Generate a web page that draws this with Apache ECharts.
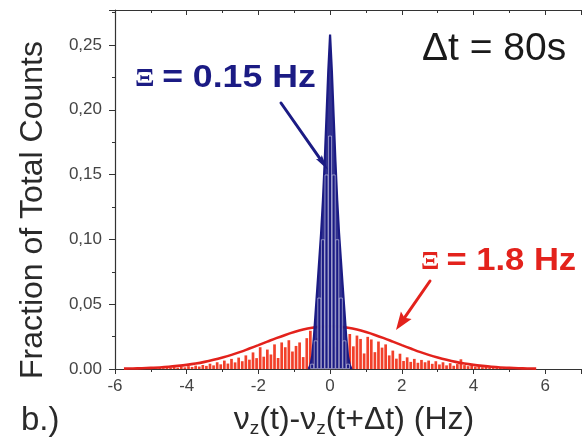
<!DOCTYPE html>
<html>
<head>
<meta charset="utf-8">
<script src="https://cdn.jsdelivr.net/npm/echarts@6/dist/echarts.min.js"></script>
<style>
  html, body { margin: 0; padding: 0; background: #fff; }
  #chart { width: 584px; height: 440px; }
</style>
</head>
<body>
<div id="chart"></div>
<script>
// Histogram of frequency differences nu_z(t) - nu_z(t + dt), dt = 80 s
const binWidth = 0.1;            // Hz
const redFirstBin = -5.65;       // centre of first bin, Hz

// Xi = 1.8 Hz run: fraction of counts per 0.1 Hz bin
const redCounts = [
  0.0004, 0.0006, 0.0003, 0.0007, 0.0005, 0.0008, 0.0004, 0.0009, 0.0006, 0.0011,
  0.0007, 0.0012, 0.0009, 0.0015, 0.0010, 0.0018, 0.0013,
  0.0022, 0.0016, 0.0026, 0.0019, 0.0031, 0.0024, 0.0041, 0.0028, 0.0052, 0.0036,
  0.0065, 0.0042, 0.0078, 0.0051, 0.0088, 0.0060, 0.0105, 0.0072, 0.0128, 0.0084,
  0.0168, 0.0095, 0.0150, 0.0112, 0.0190, 0.0085, 0.0205, 0.0168, 0.0222, 0.0135,
  0.0178, 0.0205, 0.0092, 0.0238, 0.0295, 0.0190, 0.0240, 0.0160, 0.0210, 0.0180,
  0.0225, 0.0170, 0.0215, 0.0150, 0.0195, 0.0270, 0.0175, 0.0258, 0.0232, 0.0120,
  0.0248, 0.0228, 0.0130, 0.0212, 0.0165, 0.0190, 0.0105, 0.0142, 0.0080, 0.0118,
  0.0062, 0.0090, 0.0055, 0.0078, 0.0048, 0.0070, 0.0052, 0.0065, 0.0040, 0.0060,
  0.0035, 0.0052, 0.0028, 0.0045, 0.0025, 0.0038, 0.0075, 0.0030, 0.0022, 0.0028,
  0.0018, 0.0022, 0.0014, 0.0019, 0.0011, 0.0016, 0.0009, 0.0013, 0.0008, 0.0011,
  0.0006, 0.0009, 0.0005, 0.0008, 0.0004, 0.0006, 0.0003
];

// Gaussian fit of the Xi = 1.8 Hz histogram
const redFitX = [
  -5.75, -5.5, -5.25, -5.0, -4.75, -4.5, -4.25, -4.0, -3.75, -3.5, -3.25, -3.0,
  -2.75, -2.5, -2.25, -2.0, -1.75, -1.5, -1.25, -1.0, -0.75, -0.5, -0.25, 0.0,
  0.25, 0.5, 0.75, 1.0, 1.25, 1.5, 1.75, 2.0, 2.25, 2.5, 2.75, 3.0,
  3.25, 3.5, 3.75, 4.0, 4.25, 4.5, 4.75, 5.0, 5.25, 5.5, 5.75
];
const redFitY = [
  0.0003, 0.0004, 0.0006, 0.0009, 0.0012, 0.0017, 0.0024, 0.0032, 0.0042, 0.0055, 0.0071, 0.0089,
  0.0109, 0.0132, 0.0158, 0.0184, 0.0211, 0.0238, 0.0263, 0.0285, 0.0304, 0.0318, 0.0327, 0.0330,
  0.0327, 0.0318, 0.0304, 0.0285, 0.0263, 0.0238, 0.0211, 0.0184, 0.0158, 0.0132, 0.0109, 0.0089,
  0.0071, 0.0055, 0.0042, 0.0032, 0.0024, 0.0017, 0.0012, 0.0009, 0.0006, 0.0004, 0.0003
];

// Xi = 0.15 Hz run
const blueBinCenters = [-0.5, -0.4, -0.3, -0.2, -0.1, 0.0, 0.1, 0.2, 0.3, 0.4, 0.5];
const blueCounts     = [0.004, 0.022, 0.055, 0.100, 0.150, 0.180, 0.150, 0.100, 0.055, 0.022, 0.004];

const blueFitX = [
  -0.6, -0.55, -0.5, -0.45, -0.4, -0.35, -0.3, -0.25, -0.2, -0.15, -0.1, -0.05, 0.0,
  0.05, 0.1, 0.15, 0.2, 0.25, 0.3, 0.35, 0.4, 0.45, 0.5, 0.55, 0.6
];
const blueFitY = [
  0.000, 0.003, 0.010, 0.025, 0.045, 0.065, 0.085, 0.105, 0.130, 0.160, 0.195, 0.230, 0.258,
  0.230, 0.195, 0.160, 0.130, 0.105, 0.085, 0.065, 0.045, 0.025, 0.010, 0.003, 0.000
];

// Tick labels
const xTickValues = [-6, -4, -2, 0, 2, 4, 6];
const xTickLabels = ['-6', '-4', '-2', '0', '2', '4', '6'];
const yTickValues = [0, 0.05, 0.10, 0.15, 0.20, 0.25];
const yTickLabels = ['0.00', '0,05', '0,10', '0,15', '0,20', '0,25'];

const FONT = "'Liberation Sans', Arial, Helvetica, sans-serif";
const AXIS = '#333';
const NAVY = '#1b1b84';
const RED = '#e3221c';

function lookup(values, labels, v) {
  for (let i = 0; i < values.length; i++) {
    if (Math.abs(values[i] - v) < 1e-6) return labels[i];
  }
  return '';
}

const redBars = redCounts.map((c, i) => [+(redFirstBin + i * binWidth).toFixed(2), c]);
const blueBars = blueBinCenters.map((x, i) => [x, blueCounts[i]]);
const redFit = redFitX.map((x, i) => [x, redFitY[i]]);
const blueFit = blueFitX.map((x, i) => [x, blueFitY[i]]);

// annotation arrow: shaft plus a filled head ending at (x2, y2)
function arrow(x1, y1, x2, y2, headLen, headW, color, lw) {
  const dx = x2 - x1, dy = y2 - y1, len = Math.hypot(dx, dy);
  const ux = dx / len, uy = dy / len, px = -uy, py = ux;
  const bx = x2 - ux * headLen, by = y2 - uy * headLen;
  return [
    { type: 'line', z: 100, shape: { x1: x1, y1: y1, x2: bx + ux * 2, y2: by + uy * 2 },
      style: { stroke: color, lineWidth: lw, lineCap: 'round' } },
    { type: 'polygon', z: 100, shape: { points: [
        [x2, y2], [bx + px * headW / 2, by + py * headW / 2],
        [bx + ux * 3, by + uy * 3], [bx - px * headW / 2, by - py * headW / 2]] },
      style: { fill: color } }
  ];
}

const chart = echarts.init(document.getElementById('chart'), null, { renderer: 'canvas' });

const xCommon = {
  type: 'value', min: -6, max: 7, interval: 2,
  splitLine: { show: false },
  axisLine: { show: true, onZero: false, lineStyle: { color: AXIS, width: 1.2 } }
};

chart.setOption({
  animation: false,
  backgroundColor: '#fff',
  grid: { left: 115, right: -12, top: 10, bottom: 71, containLabel: false },
  xAxis: [
    Object.assign({}, xCommon, {
      position: 'bottom',
      axisTick: { show: true, inside: false, length: 5, lineStyle: { color: AXIS, width: 1 } },
      minorTick: { show: true, splitNumber: 2, length: 3, lineStyle: { color: AXIS, width: 1 } },
      axisLabel: {
        margin: 9, fontSize: 17, color: '#444', fontFamily: FONT,
        formatter: v => lookup(xTickValues, xTickLabels, v)
      }
    }),
    Object.assign({}, xCommon, {
      position: 'top',
      axisTick: { show: true, inside: true, length: 5, lineStyle: { color: AXIS, width: 1 } },
      minorTick: { show: true, splitNumber: 2, length: 3, lineStyle: { color: AXIS, width: 1 } },
      axisLabel: { show: false }
    })
  ],
  yAxis: {
    type: 'value', min: 0, max: 0.277, interval: 0.05,
    splitLine: { show: false },
    axisLine: { show: true, onZero: false, lineStyle: { color: AXIS, width: 1.2 } },
    axisTick: { show: true, inside: false, length: 6, lineStyle: { color: AXIS, width: 1 } },
    minorTick: { show: true, splitNumber: 2, length: 3, lineStyle: { color: AXIS, width: 1 } },
    axisLabel: {
      margin: 13, fontSize: 17, color: '#444', fontFamily: FONT,
      formatter: v => lookup(yTickValues, yTickLabels, v)
    }
  },
  series: [
    {
      name: 'red histogram', type: 'bar', xAxisIndex: 0, data: redBars,
      barWidth: 2.7, z: 2,
      itemStyle: { color: '#f2402a' }
    },
    {
      name: 'red fit', type: 'line', xAxisIndex: 0, data: redFit,
      smooth: 0.3, symbol: 'none', z: 3,
      lineStyle: { color: RED, width: 2.6 }
    },
    {
      name: 'blue envelope', type: 'line', xAxisIndex: 1, data: blueFit,
      symbol: 'none', z: 4,
      lineStyle: { color: NAVY, width: 2.2, join: 'miter' },
      areaStyle: { color: NAVY, opacity: 0.9 }
    },
    {
      name: 'blue histogram', type: 'bar', xAxisIndex: 1, data: blueBars,
      barWidth: 3.7, z: 5,
      itemStyle: { color: NAVY, borderColor: 'rgba(255,255,255,0.7)', borderWidth: 0.7 }
    }
  ],
  graphic: [
    {
      type: 'text', x: 33, y: 210, rotation: Math.PI / 2,
      style: { text: 'Fraction of Total Counts', font: '32px ' + FONT, fill: '#2a2a2a',
               textAlign: 'center', textVerticalAlign: 'middle' }
    },
    {
      type: 'text', x: 354, y: 422,
      style: {
        text: '{t|\u03bd}{s|z}{t|(t)-\u03bd}{s|z}{t|(t+\u0394t) (Hz)}',
        textAlign: 'center', textVerticalAlign: 'middle',
        rich: {
          t: { font: '32px ' + FONT, fill: '#2a2a2a', lineHeight: 36, verticalAlign: 'top' },
          s: { font: '19px ' + FONT, fill: '#2a2a2a', lineHeight: 36, verticalAlign: 'top', padding: [15, 0, 0, 0] }
        }
      }
    },
    {
      type: 'text', x: 21, y: 421,
      style: { text: 'b.)', font: '33px ' + FONT, fill: '#2a2a2a', textAlign: 'left', textVerticalAlign: 'middle' }
    },
    {
      type: 'text', x: 422, y: 49,
      style: { text: '\u0394t = 80s', font: '39px ' + FONT, fill: '#1a1a1a', textAlign: 'left', textVerticalAlign: 'middle' }
    },
    {
      type: 'text', x: 135, y: 78, z: 100, scaleX: 1.15, originX: 0,
      style: {
        text: '{g|\u039e}  {b|= 0.15 Hz}', textAlign: 'left', textVerticalAlign: 'middle',
        rich: {
          g: { font: 'bold 25px "Liberation Serif", serif', fill: NAVY, padding: [4, 0, 0, 0] },
          b: { font: 'bold 31px ' + FONT, fill: NAVY }
        }
      }
    },
    {
      type: 'text', x: 421, y: 261, z: 100, scaleX: 1.08, originX: 0,
      style: {
        text: '{g|\u039e}  {b|= 1.8 Hz}', textAlign: 'left', textVerticalAlign: 'middle',
        rich: {
          g: { font: 'bold 25px "Liberation Serif", serif', fill: RED, padding: [4, 0, 0, 0] },
          b: { font: 'bold 32px ' + FONT, fill: RED }
        }
      }
    }
  ]
    .concat(arrow(281, 103, 328, 170, 16, 7, NAVY, 3))
    .concat(arrow(430, 281, 396, 330, 18, 13, RED, 3))
});
</script>
</body>
</html>
